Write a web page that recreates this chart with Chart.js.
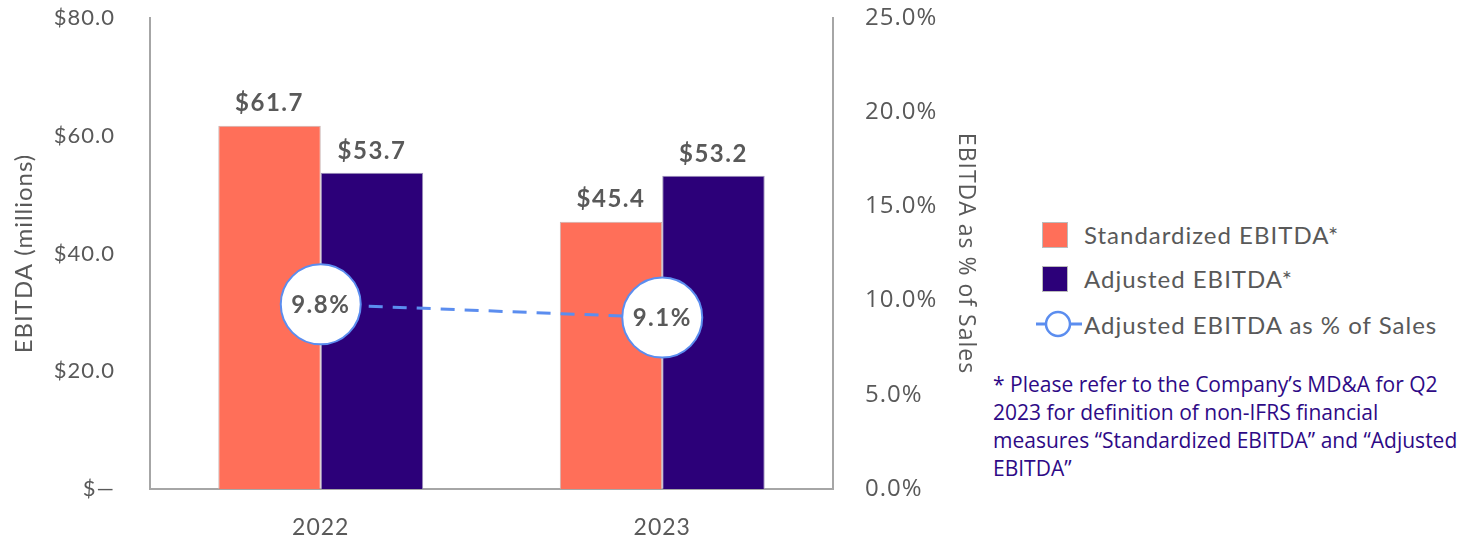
<!DOCTYPE html>
<html>
<head>
<meta charset="utf-8">
<script src="https://cdn.jsdelivr.net/npm/chart.js@4/dist/chart.umd.min.js"></script>
<style>
  body { margin: 0; background: #fff; width: 1461px; height: 541px; overflow: hidden; position: relative; font-family: Lato, sans-serif; }
  #wrap { position: absolute; left: 0; top: 0; width: 990px; height: 541px; }
  .leg { position: absolute; left: 1035px; color: #595959; font-size: 24px; letter-spacing: 1px; display: flex; align-items: center; white-space: nowrap; }
  .sw { width: 26px; height: 26px; margin-left: 7px; margin-right: 16px; box-sizing: border-box; border: 1px solid #bbb; }
  #note { position: absolute; left: 993px; top: 370px; color: #2e0a86; font-family: "Open Sans", sans-serif; font-size: 21px; line-height: 28px; white-space: nowrap; }
</style>
</head>
<body>
<div id="wrap"><canvas id="chart"></canvas></div>
<div class="leg" style="top:220px"><div class="sw" style="background:#ff6f59"></div>Standardized EBITDA*</div>
<div class="leg" style="top:264px"><div class="sw" style="background:#2c0079"></div>Adjusted EBITDA*</div>
<div class="leg" style="top:308px">
  <svg width="49" height="32"><line x1="1" y1="16" x2="47" y2="16" stroke="#5b8def" stroke-width="3"/><circle cx="23" cy="16" r="12" fill="#fff" stroke="#5b8def" stroke-width="2.5"/></svg>Adjusted EBITDA as % of Sales</div>
<div id="note">* Please refer to the Company’s MD&amp;A for Q2<br>2023 for definition of non-IFRS financial<br>measures “Standardized EBITDA” and “Adjusted<br>EBITDA”</div>
<script>
const years = ["2022", "2023"];
const standardized = [61.7, 45.4];
const adjusted = [53.7, 53.2];
const pctOfSales = [9.8, 9.1];

const grey = "#595959";

// the source text is spaced a bit wider than Lato
const spacingPlugin = {
    id: "spacing",
    beforeDraw(chart) { chart.ctx.letterSpacing = "1px"; }
};

const labelPlugin = {
    id: "valueLabels",
    afterDatasetsDraw(chart) {
        const ctx = chart.ctx;
        ctx.save();
        ctx.textAlign = "center";
        ctx.textBaseline = "middle";
        ctx.fillStyle = grey;
        ctx.letterSpacing = "1.5px";
        ctx.font = "bold 24px Lato";
        chart.data.datasets.forEach((ds, i) => {
            const meta = chart.getDatasetMeta(i);
            meta.data.forEach((el, j) => {
                if (ds.type === "line") {
                    ctx.fillText(ds.data[j].toFixed(1) + "%", el.x, el.y + 1);
                } else {
                    ctx.fillText("$" + ds.data[j].toFixed(1), el.x, el.y - 22);
                }
            });
        });
        ctx.restore();
    }
};

function noPad(scale) {
    scale.paddingTop = 0;
    scale.paddingBottom = 0;
}

new Chart(document.getElementById("chart"), {
    data: {
        labels: years,
        datasets: [
            {
                type: "line",
                label: "Adjusted EBITDA as % of Sales",
                data: pctOfSales,
                yAxisID: "y2",
                borderColor: "#5b8def",
                borderWidth: 3,
                borderDash: [14, 10],
                pointRadius: 40,
                pointHoverRadius: 40,
                pointBackgroundColor: "#fff",
                pointBorderColor: "#5b8def",
                pointBorderWidth: 2,
                order: 0
            },
            {
                type: "bar",
                label: "Standardized EBITDA*",
                data: standardized,
                backgroundColor: "#ff6f59",
                borderColor: "#c9b3b0",
                borderWidth: 1,
                categoryPercentage: 0.6,
                barPercentage: 1.0,
                order: 1
            },
            {
                type: "bar",
                label: "Adjusted EBITDA*",
                data: adjusted,
                backgroundColor: "#2c0079",
                borderColor: "#9c93b8",
                borderWidth: 1,
                categoryPercentage: 0.6,
                barPercentage: 1.0,
                order: 1
            }
        ]
    },
    options: {
        responsive: true,
        maintainAspectRatio: false,
        animation: false,
        layout: { autoPadding: false, padding: { top: 18, left: 0, right: 0, bottom: 0 } },
        plugins: { legend: { display: false }, tooltip: { enabled: false } },
        scales: {
            x: {
                grid: { display: false },
                border: { display: true, color: "#a6a6a6", width: 2 },
                ticks: { color: grey, font: { family: "Lato", size: 23 }, padding: 17 },
                afterFit(scale) { scale.height = 52; scale.paddingLeft = 0; scale.paddingRight = 0; }
            },
            y: {
                position: "left",
                min: 0, max: 80,
                grid: { display: false },
                border: { display: true, color: "#a6a6a6", width: 2 },
                ticks: {
                    stepSize: 20, color: grey, font: { family: "Lato", size: 22 }, padding: 27,
                    callback: v => v === 0 ? "$—" : "$" + v.toFixed(1)
                },
                title: { display: true, text: "EBITDA (millions)", color: grey, font: { family: "Lato", size: 24 }, padding: { top: 10 } },
                afterFit(scale) { scale.width = 150; noPad(scale); }
            },
            y2: {
                position: "right",
                min: 0, max: 25,
                grid: { display: false },
                border: { display: true, color: "#a6a6a6", width: 2 },
                ticks: {
                    stepSize: 5, color: grey, font: { family: "Open Sans", size: 24 }, padding: 24,
                    callback: v => v.toFixed(1) + "%"
                },
                title: { display: true, text: "EBITDA as % of Sales", color: grey, font: { family: "Open Sans", size: 23 }, padding: { top: 11 } },
                afterFit(scale) { scale.width = 157; noPad(scale); }
            }
        }
    },
    plugins: [spacingPlugin, labelPlugin]
});
</script>
</body>
</html>
